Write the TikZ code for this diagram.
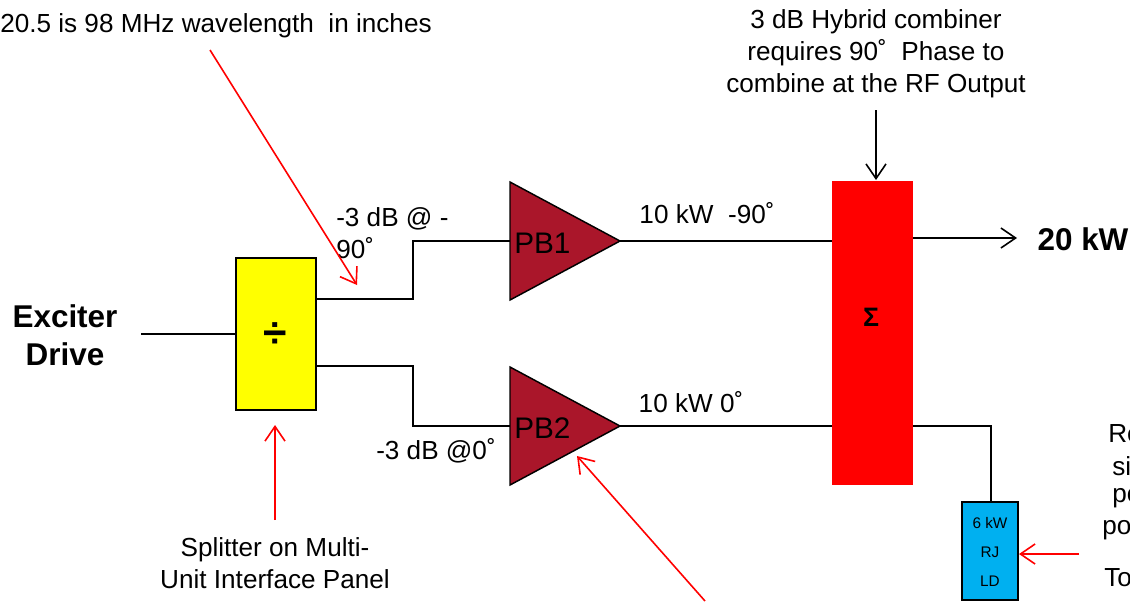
\documentclass[tikz,border=0pt]{standalone}
\usepackage{fontspec}
\setmainfont{Liberation Sans}
\usetikzlibrary{arrows.meta}
\usetikzlibrary{shapes.geometric}
\definecolor{ampred}{RGB}{170,22,42}
\definecolor{loadblue}{RGB}{0,176,240}
\definecolor{splityellow}{RGB}{255,255,0}
\definecolor{combred}{RGB}{255,0,0}
\tikzset{
	lbl/.style={font=\fontsize{19.6}{24}\selectfont,inner sep=0pt,align=center},
	lblbold/.style={font=\fontsize{23.6}{28.5}\selectfont\bfseries,inner sep=0pt,align=center},
	amptxt/.style={inner sep=0pt,anchor=west,font=\fontsize{22.3}{26}\selectfont},
	loadtxt/.style={inner sep=0pt,font=\fontsize{11.5}{14}\selectfont},
	amp/.style={isosceles triangle,isosceles triangle stretches,draw,line width=1.1pt,fill=ampred,
		anchor=lower side,minimum width=88.5pt,minimum height=82.5pt,inner sep=0pt,outer sep=0pt},
	box/.style={rectangle,draw,line width=1.1pt,inner sep=0pt,outer sep=0pt},
}
\begin{document}
\begin{tikzpicture}[x=0.75pt,y=-0.75pt]
	\useasboundingbox (0,0) rectangle (1130,601);

	\begin{scope}[every node/.style={box}]
		\node [fill=splityellow,minimum width=60pt,minimum height=114pt] (split) at (276,334) {};
		\node [fill=combred,draw=combred,minimum width=60pt,minimum height=227pt] (comb) at (872.5,333) {};
		\node [fill=loadblue,minimum width=42pt,minimum height=73.5pt] (load) at (990,551) {};
	\end{scope}
	\node [amp] (pb1) at (510,241) {};
	\node [amp] (pb2) at (510,426) {};

	\node [lblbold] (exciter) at (65,335) {Exciter\\Drive};
	\node [lblbold] (out) at (1083,239) {20 kW};
	\node [lbl,font=\fontsize{32}{36}\selectfont\bfseries] (div) at (275,335) {÷};
	\node [lbl,font=\fontsize{20}{24}\selectfont\bfseries] (sigma) at (871,317) {Σ};
	\node [amptxt] (pb1txt) at (514,243) {PB1};
	\node [amptxt] (pb2txt) at (514,428) {PB2};
	\node [loadtxt] (loadtxta) at (990,523) {6 kW};
	\node [loadtxt] (loadtxtb) at (990,552) {RJ};
	\node [loadtxt] (loadtxtc) at (990,581) {LD};

	\node [lbl,anchor=west] (wave) at (0,26) {20.5 is 98 MHz wavelength\ \ in inches};
	\node [lbl] (hybrid) at (876,54) {3 dB Hybrid combiner\\requires\ 90˚\ \ Phase to\\combine at the RF Output};
	\node [lbl,anchor=west,align=left] (lossa) at (336,233) {-3 dB\ @ -\\90˚};
	\node [lbl] (lossb) at (436,451) {-3 dB\ @0˚};
	\node [lbl] (powa) at (707,213) {10 kW\ \ -90˚};
	\node [lbl] (powb) at (691,402) {10 kW 0˚};
	\node [lbl] (panel) at (275,563) {Splitter on Multi-\\Unit Interface\ Panel};
	\node [lbl,anchor=west] (rea) at (1108,434) {Re};
	\node [lbl,anchor=west] (reb) at (1112,466) {si};
	\node [lbl,anchor=west] (rec) at (1112,498) {po};
	\node [lbl,anchor=west] (red) at (1102,530) {pow};
	\node [lbl,anchor=west] (ree) at (1104,578) {To};

	\coordinate (drive) at (141,334);
	\coordinate (splitup) at (316,299);
	\coordinate (splitlow) at (316,366);
	\coordinate (kneeup) at (413,241);
	\coordinate (kneelow) at (413,426);
	\coordinate (combup) at (832,241);
	\coordinate (comblow) at (832,426);
	\coordinate (combout) at (913,238);
	\coordinate (outend) at (1017,238);
	\coordinate (combrej) at (913,426);
	\coordinate (kneerej) at (991,426);
	\coordinate (loadtop) at (991,502);
	\coordinate (hybridend) at (876,110);
	\coordinate (combtop) at (876,180);
	\coordinate (wavestart) at (210,50);
	\coordinate (waveend) at (357,285);
	\coordinate (panelstart) at (275,520);
	\coordinate (panelend) at (275,425);
	\coordinate (ampstart) at (705,601);
	\coordinate (ampend) at (577,456);
	\coordinate (loadstart) at (1079,554);
	\coordinate (loadend) at (1019,554);

	\begin{scope}[line width=1.1pt]
		\path (drive) edge node {} (split.west |- drive);
		\draw (splitup) -| (kneeup) -- (pb1.lower side);
		\draw (splitlow) -| (kneelow) -- (pb2.lower side);
		\path (pb1.apex) edge node {} (combup);
		\path (pb2.apex) edge node {} (comblow);
		\draw (combrej) -- (kneerej) -- (loadtop);
	\end{scope}

	\begin{scope}[line width=1.2pt,>={Straight Barb[length=11pt,width=15pt]}]
		\draw [->] (combout) -- (outend);
		\draw [->] (hybridend) -- (combtop);
		\begin{scope}[combred]
			\draw [->] (wavestart) -- (waveend);
			\draw [->] (panelstart) -- (panelend);
			\draw [->] (ampstart) -- (ampend);
			\draw [->] (loadstart) -- (loadend);
		\end{scope}
	\end{scope}
\end{tikzpicture}
\end{document}
